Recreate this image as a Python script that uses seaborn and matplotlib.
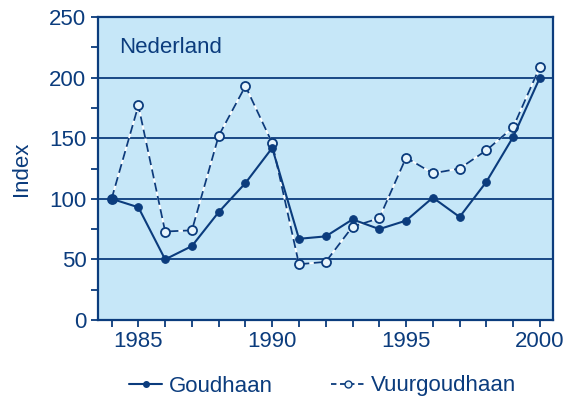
import matplotlib
matplotlib.use('Agg')
import matplotlib.pyplot as plt
import matplotlib.ticker as mticker
from matplotlib.lines import Line2D
import pandas as pd
import seaborn as sns

# ── Data ───────────────────────────────────────────────────────────────────────
years        = [1984, 1985, 1986, 1987, 1988, 1989, 1990, 1991, 1992,
                1993, 1994, 1995, 1996, 1997, 1998, 1999, 2000]
goudhaan     = [100, 93, 50, 61, 89, 113, 142, 67, 69, 83, 75, 82, 101, 85, 114, 151, 200]
vuurgoudhaan = [100, 177, 73, 74, 152, 193, 146, 46, 48, 77, 84, 134, 121, 125, 140, 159, 209]

# ── Style ──────────────────────────────────────────────────────────────────────
NAVY  = '#0b3c7d'
BG    = '#c6e7f8'
FS    = 16

sns.set_theme(style='white')
plt.rcParams['font.family'] = ['Liberation Sans', 'DejaVu Sans']

fig = plt.figure(figsize=(5.71, 4.0), dpi=100)
ax = fig.add_axes([0.172, 0.2, 0.797, 0.7575])
ax.set_facecolor(BG)

df = pd.DataFrame({'year': years, 'Goudhaan': goudhaan, 'Vuurgoudhaan': vuurgoudhaan})

for y in [50, 100, 150, 200]:
    ax.axhline(y, color=NAVY, lw=1.3, zorder=1)

# dashed series: white underlay so the gaps show white
sns.lineplot(data=df, x='year', y='Vuurgoudhaan', ax=ax, color='white', lw=1.3, zorder=2)
sns.lineplot(data=df, x='year', y='Vuurgoudhaan', ax=ax, color=NAVY, lw=1.3,
             linestyle=(0, (5, 2.5)), marker='o', markersize=6.5,
             markerfacecolor='#e6f4fc', markeredgecolor=NAVY, markeredgewidth=1.3, zorder=3)
sns.lineplot(data=df, x='year', y='Goudhaan', ax=ax, color=NAVY, lw=1.5,
             marker='o', markersize=5.5, markerfacecolor=NAVY, markeredgecolor=NAVY, zorder=4)

ax.set_xlim(1983.5, 2000.5)
ax.set_ylim(0, 250)
ax.xaxis.set_major_locator(mticker.MultipleLocator(5))
ax.xaxis.set_minor_locator(mticker.MultipleLocator(1))
ax.yaxis.set_major_locator(mticker.MultipleLocator(50))
ax.yaxis.set_minor_locator(mticker.MultipleLocator(25))
ax.tick_params(axis='both', which='both', direction='out', color=NAVY,
               length=5, width=1.3, labelcolor=NAVY, labelsize=FS,
               bottom=True, left=True)
ax.tick_params(axis='x', pad=3)
for s in ax.spines.values():
    s.set_color(NAVY)
    s.set_linewidth(1.6)

ax.set_xlabel('')
ax.set_ylabel('Index', color=NAVY, fontsize=FS, labelpad=12)
ax.text(0.045, 0.9, 'Nederland', transform=ax.transAxes, color=NAVY,
        fontsize=FS, va='center', ha='left')

handles = [
    Line2D([], [], color=NAVY, lw=1.5, marker='o', markersize=4, markerfacecolor=NAVY),
    Line2D([], [], color=NAVY, lw=1.3, linestyle=(0, (3, 2)), marker='o', markersize=5,
           markerfacecolor='#e6f4fc', markeredgecolor=NAVY),
]
leg = fig.legend(handles, ['Goudhaan', 'Vuurgoudhaan'], loc='center',
                 bbox_to_anchor=(0.565, 0.035), ncol=2, frameon=False,
                 fontsize=FS, handlelength=1.5, handletextpad=0.3, columnspacing=2.6)
for t in leg.get_texts():
    t.set_color(NAVY)

fig.savefig('out.png', dpi=100, facecolor='white')
